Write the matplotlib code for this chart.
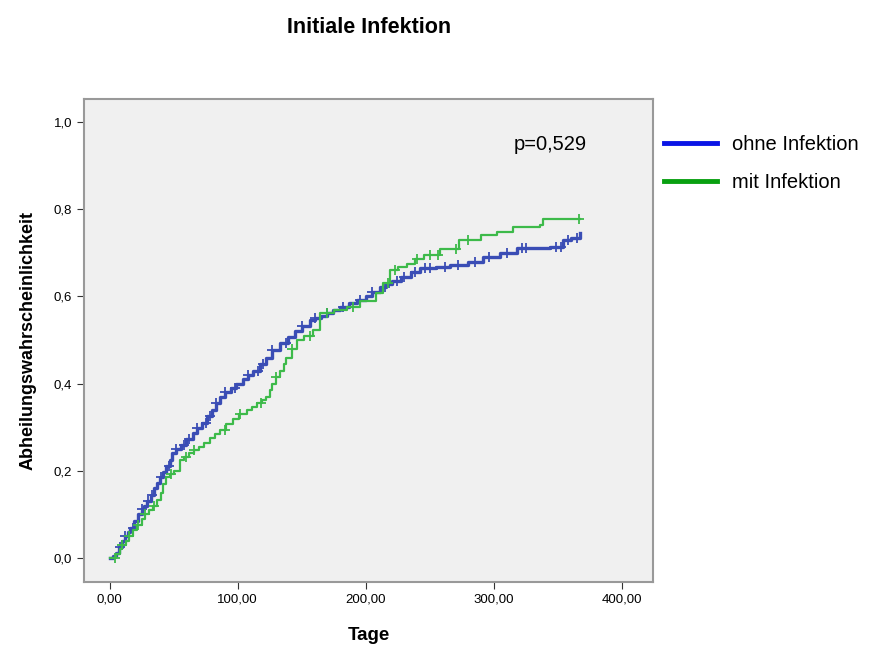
import numpy as np
import matplotlib.pyplot as plt
from matplotlib.lines import Line2D

plt.rcParams["font.family"] = ["Liberation Sans", "DejaVu Sans"]

# Kaplan-Meier (1 - S) Schaetzung
ohne_t = [0, 3, 5, 7, 10, 12, 14, 16, 19, 22, 25, 27, 29, 32, 35, 37, 39, 42, 44, 47, 49,
          52, 56, 60, 65, 68, 72, 76, 80, 83, 86, 90, 95, 99, 104, 108, 112, 117, 122, 127,
          133, 139, 145, 150, 156, 160, 165, 170, 174, 180, 187, 193, 200, 205, 211, 216,
          220, 227, 235, 242, 255, 266, 280, 291, 305, 318, 330, 344, 354, 360, 367]
ohne_p = [0, 0.005, 0.012, 0.025, 0.04, 0.05, 0.06, 0.07, 0.085, 0.10, 0.112, 0.12, 0.13,
          0.145, 0.16, 0.172, 0.186, 0.198, 0.21, 0.225, 0.24, 0.25, 0.26, 0.272, 0.287,
          0.298, 0.31, 0.325, 0.34, 0.355, 0.37, 0.38, 0.39, 0.40, 0.41, 0.42, 0.43, 0.445,
          0.46, 0.477, 0.493, 0.507, 0.52, 0.533, 0.546, 0.55, 0.555, 0.562, 0.569, 0.576,
          0.585, 0.592, 0.60, 0.61, 0.622, 0.628, 0.635, 0.645, 0.655, 0.665, 0.668, 0.672,
          0.68, 0.69, 0.70, 0.711, 0.712, 0.713, 0.729, 0.735, 0.745]
mit_t = [0, 2, 5, 8, 10, 13, 15, 18, 21, 25, 28, 31, 34, 37, 40, 42, 44, 47, 50, 55, 58,
         62, 66, 70, 74, 78, 82, 86, 91, 96, 101, 107, 111, 115, 119, 122, 125, 127, 130,
         133, 136, 138, 142, 146, 152, 159, 164, 175, 185, 195, 208, 213, 219, 225, 232,
         238, 245, 258, 273, 290, 302, 315, 336, 338, 367]
mit_p = [0, 0.0, 0.01, 0.02, 0.03, 0.04, 0.05, 0.064, 0.075, 0.09, 0.10, 0.11, 0.12, 0.133,
         0.15, 0.17, 0.186, 0.193, 0.20, 0.225, 0.232, 0.24, 0.248, 0.255, 0.265, 0.275,
         0.285, 0.294, 0.307, 0.32, 0.33, 0.34, 0.347, 0.355, 0.362, 0.37, 0.385, 0.40,
         0.415, 0.43, 0.445, 0.46, 0.48, 0.50, 0.51, 0.523, 0.562, 0.57, 0.576, 0.59, 0.608,
         0.63, 0.66, 0.668, 0.675, 0.685, 0.695, 0.71, 0.729, 0.74, 0.748, 0.759, 0.764,
         0.778, 0.778]

# zensierte Faelle
ohne_zens = [8, 12, 18, 25, 30, 33, 40, 46, 52, 58, 62, 68, 75, 78, 83, 90, 98, 108, 116,
             120, 127, 138, 150, 160, 170, 182, 195, 205, 215, 224, 230, 238, 246, 250, 262,
             272, 285, 296, 310, 322, 325, 348, 352, 358, 365]
mit_zens = [4, 10, 15, 22, 28, 35, 48, 60, 66, 90, 102, 118, 130, 142, 156, 170, 190, 217,
            223, 240, 250, 256, 270, 280, 366]

labels = ["ohne Infektion", "mit Infektion"]
p_text = "p=0,529"


def werte_bei(t, p, zeiten):
    idx = np.searchsorted(t, zeiten, side="right") - 1
    return np.array(p)[idx]


fig = plt.figure(figsize=(8.71, 6.5), dpi=100)
ax = fig.add_axes([0.0964, 0.1046, 0.6533, 0.7431])
ax.set_facecolor("#f0f0f0")

ax.step(ohne_t, ohne_p, where="post", color="#3a4db5", lw=2.4)
ax.plot(ohne_zens, werte_bei(ohne_t, ohne_p, ohne_zens), "+", color="#3a4db5", ms=7, mew=1.3)
ax.step(mit_t, mit_p, where="post", color="#3dba4a", lw=1.6)
ax.plot(mit_zens, werte_bei(mit_t, mit_p, mit_zens), "+", color="#3dba4a", ms=7, mew=1.3)

ax.set_xlim(-20, 424)
ax.set_ylim(-0.055, 1.053)
ax.set_xticks([0, 100, 200, 300, 400])
ax.set_xticklabels(["0,00", "100,00", "200,00", "300,00", "400,00"], fontsize=9.5)
ax.set_yticks([0, 0.2, 0.4, 0.6, 0.8, 1.0])
ax.set_yticklabels(["0,0", "0,2", "0,4", "0,6", "0,8", "1,0"], fontsize=9.5)
ax.tick_params(length=5, color="#333333")
for s in ax.spines.values():
    s.set_color("#999999")
    s.set_linewidth(1.5)

ax.set_xlabel("Tage", fontsize=13.5, fontweight="bold", labelpad=15)
ax.set_ylabel("Abheilungswahrscheinlichkeit", fontsize=13, fontweight="bold", labelpad=12)
ax.text(0.755, 0.895, p_text, transform=ax.transAxes, fontsize=14.5)

fig.text(0.424, 0.958, "Initiale Infektion", ha="center", va="center",
         fontsize=15.5, fontweight="bold")

handles = [Line2D([0], [0], color="#0a14e6", lw=3.5),
           Line2D([0], [0], color="#08a010", lw=3.5)]
fig.legend(handles, labels, loc="upper left", bbox_to_anchor=(0.742, 0.82),
           frameon=False, fontsize=14.5, handlelength=2.6, handletextpad=0.75,
           labelspacing=0.95)

fig.savefig("out.png", dpi=100)
